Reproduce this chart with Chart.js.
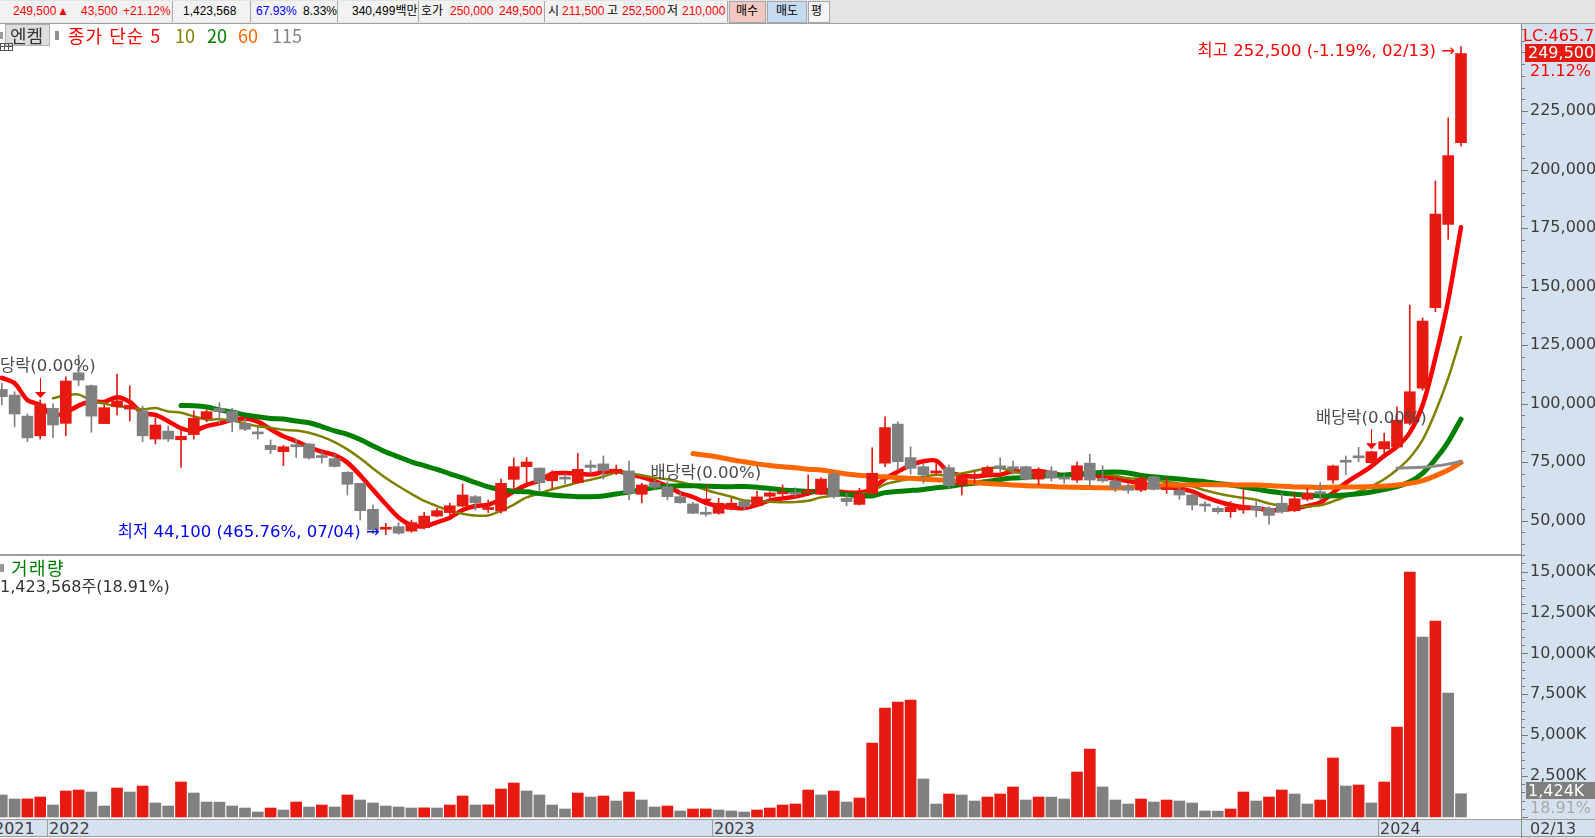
<!DOCTYPE html>
<html lang="ko">
<head>
<meta charset="utf-8">
<title>엔켐 주봉</title>
<script src="https://cdn.jsdelivr.net/npm/chart.js@4.4.1/dist/chart.umd.min.js"></script>
<style>
  html,body{margin:0;padding:0;background:#fff;}
  #wrap{position:relative;width:1595px;height:838px;overflow:hidden;background:#fff;
        font-family:"DejaVu Sans","Noto Sans CJK KR",sans-serif;color:#333;}
  .abs{position:absolute;white-space:nowrap;line-height:1;}
  #toolbar{position:absolute;left:0;top:0;width:1595px;height:23px;background:#e4e4e4;border-bottom:1px solid #a0a0a0;
           font-family:"Liberation Sans","Noto Sans CJK KR",sans-serif;font-size:12px;}
  .cell{position:absolute;top:1px;height:21px;background:#f2f2f2;border-right:1px solid #a8a8a8;}
  .btn{position:absolute;top:1px;height:20px;border:1px solid #a8a8a8;}
  .tb{position:absolute;top:5px;white-space:nowrap;line-height:13px;}
  .red{color:#f00;} .blk{color:#000;} .blu{color:#0000ff;}
  #axisBg{position:absolute;left:1522px;top:24px;width:73px;height:814px;background:#d6e1ef;}
  canvas{position:absolute;left:0;}
  .hd{font-family:"Noto Sans CJK KR",sans-serif;font-size:18px;}
</style>
</head>
<body>
<div id="wrap">
  <div id="axisBg"></div>
  <canvas id="cPrice" width="1595" height="530" style="top:25px"></canvas>
  <canvas id="cVol" width="1595" height="264" style="top:555px"></canvas>

  <div id="toolbar">
    <div class="cell" style="left:0;width:172px"></div>
    <div class="cell" style="left:173px;width:77px"></div>
    <div class="cell" style="left:251px;width:86px"></div>
    <div class="cell" style="left:338px;width:80px"></div>
    <div class="cell" style="left:419px;width:125px"></div>
    <div class="cell" style="left:545px;width:182px"></div>
    <div class="btn" style="left:729px;width:35px;background:#f3c8c3"></div>
    <div class="btn" style="left:767px;width:38px;background:#c6daf2"></div>
    <div class="btn" style="left:808px;width:20px;background:#f4f4f4"></div>
    <span class="tb red" style="left:13px">249,500</span>
    <span class="tb red" style="left:57px">▲</span>
    <span class="tb red" style="left:81px">43,500</span>
    <span class="tb red" style="left:123px">+21.12%</span>
    <span class="tb blk" style="left:183px">1,423,568</span>
    <span class="tb blu" style="left:256px">67.93%</span>
    <span class="tb blk" style="left:303px">8.33%</span>
    <span class="tb blk" style="left:352px">340,499백만</span>
    <span class="tb blk" style="left:421px">호가</span>
    <span class="tb red" style="left:450px">250,000</span>
    <span class="tb red" style="left:499px">249,500</span>
    <span class="tb blk" style="left:548px">시</span>
    <span class="tb red" style="left:562px">211,500</span>
    <span class="tb blk" style="left:607px">고</span>
    <span class="tb red" style="left:622px">252,500</span>
    <span class="tb blk" style="left:667px">저</span>
    <span class="tb red" style="left:682px">210,000</span>
    <span class="tb blk" style="left:736px">매수</span>
    <span class="tb blk" style="left:776px">매도</span>
    <span class="tb blk" style="left:811px">평</span>
  </div>

  <!-- price pane header -->
  <div class="abs" style="left:0;top:32px;width:3px;height:7px;background:#9a9a9a;"></div>
  <div class="abs" style="left:5px;top:24px;width:43px;height:20px;background:#dedede;border:1px solid #b0b0b0;"></div>
  <span class="abs hd" style="left:10px;top:26px;color:#333;">엔켐</span>
  <div class="abs" style="left:55px;top:31px;width:4px;height:9px;background:#8e8e8e;"></div>
  <span class="abs hd" style="left:68px;top:26px;color:#f00;letter-spacing:1px;">종가 단순 5</span>
  <span class="abs hd" style="left:175px;top:26px;color:#808000;">10</span>
  <span class="abs hd" style="left:207px;top:26px;color:#008000;">20</span>
  <span class="abs hd" style="left:238px;top:26px;color:#ff6600;">60</span>
  <span class="abs hd" style="left:272px;top:26px;color:#808080;">115</span>
  <div class="abs" style="left:0;top:43px;width:11px;height:6px;border:1px solid #555;background:
       linear-gradient(#555,#555) 0 2px/100% 1px no-repeat, linear-gradient(#555,#555) 3px 0/1px 100% no-repeat, linear-gradient(#555,#555) 7px 0/1px 100% no-repeat;"></div>

  <!-- volume pane header -->
  <div class="abs" style="left:0;top:564px;width:4px;height:8px;background:#9a9a9a;"></div>
  <span class="abs hd" style="left:11px;top:558px;color:#008000;letter-spacing:1.5px;">거래량</span>
  <span class="abs" style="left:0;top:579px;font-size:16px;color:#333;">1,423,568주(18.91%)</span>

  <!-- pane separator, axis line, date strip -->
  <div class="abs" style="left:0;top:554px;width:1522px;height:2px;background:#9c9c9c;"></div>
  <div class="abs" id="strip" style="left:0;top:819px;width:1595px;height:16px;background:#d6e1ef;border-top:1px solid #9c9c9c;border-bottom:1px solid #9c9c9c;"></div>
  <div class="abs" style="left:1521px;top:24px;width:1px;height:814px;background:#8a8a8a;"></div>
</div>

<script>
// ---------------- data (weekly candles, 엔켐) ----------------
const WEEKS = [
 '2021-12-06','2021-12-13','2021-12-20','2021-12-27',
 '2022-01-03','2022-01-10','2022-01-17','2022-01-24','2022-01-31',
 '2022-02-07','2022-02-14','2022-02-21','2022-02-28',
 '2022-03-07','2022-03-14','2022-03-21','2022-03-28',
 '2022-04-04','2022-04-11','2022-04-18','2022-04-25',
 '2022-05-02','2022-05-09','2022-05-16','2022-05-23','2022-05-30',
 '2022-06-06','2022-06-13','2022-06-20','2022-06-27',
 '2022-07-04','2022-07-11','2022-07-18','2022-07-25',
 '2022-08-01','2022-08-08','2022-08-15','2022-08-22','2022-08-29',
 '2022-09-05','2022-09-12','2022-09-19','2022-09-26',
 '2022-10-03','2022-10-10','2022-10-17','2022-10-24','2022-10-31',
 '2022-11-07','2022-11-14','2022-11-21','2022-11-28',
 '2022-12-05','2022-12-12','2022-12-19','2022-12-26',
 '2023-01-02','2023-01-09','2023-01-16','2023-01-23','2023-01-30',
 '2023-02-06','2023-02-13','2023-02-20','2023-02-27',
 '2023-03-06','2023-03-13','2023-03-20','2023-03-27',
 '2023-04-03','2023-04-10','2023-04-17','2023-04-24',
 '2023-05-01','2023-05-08','2023-05-15','2023-05-22','2023-05-29',
 '2023-06-05','2023-06-12','2023-06-19','2023-06-26',
 '2023-07-03','2023-07-10','2023-07-17','2023-07-24','2023-07-31',
 '2023-08-07','2023-08-14','2023-08-21','2023-08-28',
 '2023-09-04','2023-09-11','2023-09-18','2023-09-25',
 '2023-10-02','2023-10-09','2023-10-16','2023-10-23','2023-10-30',
 '2023-11-06','2023-11-13','2023-11-20','2023-11-27',
 '2023-12-04','2023-12-11','2023-12-18','2023-12-26',
 '2024-01-02','2024-01-08','2024-01-15','2024-01-22','2024-01-29',
 '2024-02-05','2024-02-13'
];

const OPEN = [
 106100,103700,94700,86300,98000,91600,113200,107700,91500,98700,
 97700,96900,84900,88300,84600,86800,93600,98000,96900,91600,
 87200,82200,79500,81700,82800,77100,76500,70700,66000,54900,
 46400,47500,45600,47100,52000,53500,56300,60300,54800,54200,
 67700,73100,72500,67100,67900,66300,73800,74300,70500,71300,
 61300,66300,64600,60300,57200,52900,53200,55000,58200,56400,
 60500,61500,61500,62200,61300,69900,59600,57000,61700,74600,
 91300,77000,73100,70400,72700,65300,68200,69600,73500,73100,
 73100,67800,71300,68700,67400,74600,68100,67000,64400,63100,
 68800,63300,63100,61000,56400,55300,53900,54600,56000,55300,
 57500,54300,59200,62400,67400,75100,77000,74800,80700,81500,
 91600,106600,141000,176600,211500];

const HIGH = [
 108700,105100,95600,101600,99900,111500,120800,108000,99400,112700,
 107600,99000,94000,90500,90200,96900,97300,100400,98000,93800,
 89900,84500,82200,84900,83100,79500,78400,71000,66000,56700,
 48900,49200,50300,53600,55300,57500,65700,60800,58900,67800,
 76800,77000,72600,71400,70000,78800,75700,77700,73800,75500,
 66000,67400,66700,62400,58000,56000,59600,59600,58500,62700,
 62400,65300,64100,69600,68400,71300,61700,63900,81200,94400,
 92300,81600,74500,75200,73800,70300,71000,73400,76900,75500,
 73400,72700,73100,69900,75200,78500,73500,67800,66000,68800,
 69100,68300,64300,61700,58200,56000,58200,63600,58200,56000,
 61700,61700,63900,66300,73800,77700,81400,79700,87400,98700,
 142100,136600,195100,222100,252500];

const LOW = [
 99400,90200,83800,84900,85500,86300,107700,87800,91400,95200,
 92600,83800,82800,83800,72800,84900,92300,91600,88000,88500,
 84900,78700,73600,77000,76300,74700,72900,61000,50300,44500,
 44100,44200,45100,46500,51700,52500,56000,54600,53500,53300,
 63200,66100,62400,63900,65700,66000,70300,67800,69700,58900,
 57700,63100,58900,57500,53000,52000,52800,54600,54600,56000,
 59700,60300,60300,61300,61000,59600,56400,56700,61300,73100,
 71700,69900,66000,69600,63900,61000,66000,68800,71000,69900,
 67400,65300,67000,66000,66400,65000,66400,62400,61700,62400,
 63100,61700,59200,54600,53900,53200,51500,53200,51700,48600,
 53200,53900,58600,58900,66000,69600,75200,74500,78800,80700,
 91000,105800,139300,170200,210000];

const CLOSE = [
 103000,95600,85400,99900,90900,109700,110100,94700,98300,101200,
 99400,86300,90900,84900,86100,93800,96600,96600,92300,89100,
 87100,80400,81600,81600,76800,77000,73200,65600,54300,46100,
 46500,44700,49200,52000,54300,56400,61000,57700,54900,66000,
 73100,75100,66300,69900,67800,72000,72800,71400,72000,61700,
 65300,64300,60300,57700,53200,52800,57500,57500,56000,60200,
 61900,62200,61300,62700,67800,60300,58200,61300,70300,89800,
 75200,72400,69600,71300,65000,68800,69600,72700,72400,72100,
 67800,71300,68200,67800,73500,67400,67000,63900,63000,68100,
 63400,63400,61000,56700,56300,53900,55800,56300,54600,52300,
 53900,59400,61700,61500,73400,75000,76900,79500,83800,93000,
 105100,135300,181000,206000,249500];

// closes of the 5 weeks before the visible window (needed by the moving averages)
const PRE_CLOSE = [96200, 107100, 120900, 110900, 113100];

// weekly volume, thousands of shares
const VOLUME_K = [
 1345,1100,1110,1222,733,1589,1650,1528,672,1772,
 1528,1895,856,672,2139,1467,917,910,672,550,
 306,550,428,917,611,733,611,1345,1039,856,
 672,611,550,560,550,733,1284,733,745,1711,
 2078,1589,1345,733,489,1467,1222,1284,978,1528,
 1039,611,672,367,489,495,428,367,306,428,
 550,733,795,1650,1345,1589,917,1161,4523,6662,
 7029,7151,2323,795,1406,1345,978,1222,1406,1834,
 1039,1222,1215,1100,2750,4156,1834,1039,795,1100,
 917,1039,978,856,367,360,489,1528,978,1222,
 1650,1406,795,1039,3606,1895,1956,856,2139,5501,
 14974,11002,11980,7579,1423.568];

const MA_PERIODS = [5, 10, 20, 60, 115];
const DIVIDEND_WEEKS = ['2021-12-27', '2022-12-26', '2023-12-26'];
const PRICE_TICKS = [50000, 75000, 100000, 125000, 150000, 175000, 200000, 225000, 250000];
const VOLUME_TICKS_K = [2500, 5000, 7500, 10000, 12500, 15000];

// ---------------- styles ----------------
const RED = '#e61a10', GRAY = '#808080';
const MA_STYLE = {5:{color:'#ff0000',width:4.5}, 10:{color:'#808000',width:2.5}, 20:{color:'#008000',width:5},
                  60:{color:'#ff6600',width:5}, 115:{color:'#8a8a8a',width:3}};
const FONT = 'DejaVu Sans';

const ALL_CLOSE = PRE_CLOSE.concat(CLOSE);
function movingAverage(n) {
  const pts = [];
  for (let i = 0; i < CLOSE.length; i++) {
    const end = i + PRE_CLOSE.length;
    if (end - n + 1 < 0) continue;
    let s = 0;
    for (let k = end - n + 1; k <= end; k++) s += ALL_CLOSE[k];
    pts.push({x: i, y: s / n});
  }
  return pts;
}

const candleColor = CLOSE.map((c, i) => c >= OPEN[i] ? RED : GRAY);
const volumeColor = VOLUME_K.map((v, i) => (i > 0 && v > VOLUME_K[i - 1]) ? RED : GRAY);
const DIVIDEND_IDX = DIVIDEND_WEEKS.map(w => WEEKS.indexOf(w));

const X_RANGE = {min: -0.1406, max: 118.766};

const axisTicks = {
  id: 'axisTicks',
  afterDraw(chart, args, opts) {
    const s = chart.scales.y, ctx = chart.ctx;
    ctx.save();
    ctx.strokeStyle = '#7a7a7a'; ctx.lineWidth = 1;
    const start = Math.max(0, Math.ceil(s.min / opts.minor)) * opts.minor;
    for (let v = start; v <= s.max; v += opts.minor) {
      const yy = Math.round(s.getPixelForValue(v)) + 0.5;
      const len = (v % opts.major === 0) ? 6 : 3;
      ctx.beginPath(); ctx.moveTo(s.left, yy); ctx.lineTo(s.left + len, yy); ctx.stroke();
    }
    ctx.restore();
  }
};

const dividendArrows = {
  id: 'dividendArrows',
  afterDatasetsDraw(chart) {
    const {ctx, scales: {x, y}} = chart;
    ctx.save();
    ctx.fillStyle = '#ff0000'; ctx.strokeStyle = '#ff0000'; ctx.lineWidth = 1;
    DIVIDEND_IDX.forEach(i => {
      const px = Math.round(x.getPixelForValue(i)) + 0.5;
      const tip = y.getPixelForValue(HIGH[i]) - 2;
      ctx.beginPath(); ctx.moveTo(px, tip - 20); ctx.lineTo(px, tip - 5); ctx.stroke();
      ctx.beginPath(); ctx.moveTo(px - 5.5, tip - 6); ctx.lineTo(px + 5.5, tip - 6); ctx.lineTo(px, tip); ctx.closePath(); ctx.fill();
    });
    ctx.restore();
  }
};

function yAxis(min, max, ticks, fmt) {
  return {
    position: 'right', min, max,
    afterFit(scale) { scale.width = 73; scale.paddingTop = 0; scale.paddingBottom = 0; },
    afterBuildTicks(scale) { scale.ticks = ticks.map(v => ({value: v})); },
    grid: {display: false, drawTicks: false},
    border: {display: false},
    ticks: {padding: 8, color: '#3c3c3c', font: {family: FONT, size: 16}, callback: fmt}
  };
}
const xAxis = {type: 'linear', min: X_RANGE.min, max: X_RANGE.max, offset: false, display: false};

const priceDatasets = MA_PERIODS.map((n, k) => ({
  type: 'line', label: '단순 ' + n, data: movingAverage(n),
  borderColor: MA_STYLE[n].color, borderWidth: MA_STYLE[n].width,
  pointRadius: 0, tension: 0.3, fill: false, order: 10 + (MA_PERIODS.length - k),
  borderJoinStyle: 'round', borderCapStyle: 'round'
}));
priceDatasets.push({
  type: 'bar', label: 'wick', data: WEEKS.map((w, i) => ({x: i, y: [LOW[i], HIGH[i]]})),
  backgroundColor: candleColor, barThickness: 1, grouped: false, order: 2
});
priceDatasets.push({
  type: 'bar', label: 'body',
  data: WEEKS.map((w, i) => ({x: i, y: [Math.min(OPEN[i], CLOSE[i]), Math.max(OPEN[i], CLOSE[i])]})),
  backgroundColor: candleColor, barThickness: 11, minBarLength: 2, grouped: false, order: 1
});

const common = {
  responsive: false, maintainAspectRatio: false, animation: false, events: [],
  layout: {padding: 0},
  plugins: {legend: {display: false}, tooltip: {enabled: false}}
};

const priceChart = new Chart(document.getElementById('cPrice'), {
  type: 'bar',
  data: {datasets: priceDatasets},
  options: Object.assign({}, common, {
    plugins: Object.assign({}, common.plugins, {axisTicks: {minor: 5000, major: 25000}}),
    scales: {x: xAxis, y: yAxis(35386, 261727, PRICE_TICKS, v => v.toLocaleString('en-US'))}
  }),
  plugins: [axisTicks, dividendArrows]
});

const volChart = new Chart(document.getElementById('cVol'), {
  type: 'bar',
  data: {datasets: [{
    type: 'bar', label: '거래량', data: VOLUME_K.map((v, i) => ({x: i, y: v})),
    backgroundColor: volumeColor, barThickness: 11, grouped: false
  }]},
  options: Object.assign({}, common, {
    plugins: Object.assign({}, common.plugins, {axisTicks: {minor: 500, major: 2500}}),
    scales: {x: xAxis, y: yAxis(-122, 16015, VOLUME_TICKS_K, v => v.toLocaleString('en-US') + 'K')}
  }),
  plugins: [axisTicks]
});

// ---------------- text overlays placed through the chart scales ----------------
const wrap = document.getElementById('wrap');
function addText(txt, css) {
  const d = document.createElement('div');
  d.className = 'abs';
  d.textContent = txt;
  Object.assign(d.style, css);
  wrap.appendChild(d);
  return d;
}
const PX = priceChart.scales.x, PY = priceChart.scales.y, VY = volChart.scales.y;
const P_TOP = 25, V_TOP = 555;
const xPix = i => PX.getPixelForValue(i);
const yPix = v => P_TOP + PY.getPixelForValue(v);
const vPix = v => V_TOP + VY.getPixelForValue(v);
const last = CLOSE.length - 1;
const hiIdx = HIGH.indexOf(Math.max(...HIGH));
const loIdx = LOW.indexOf(Math.min(...LOW));

addText('최고 252,500 (-1.19%, 02/13) →', {right: (1595 - (xPix(hiIdx) - 6)) + 'px', top: (yPix(HIGH[hiIdx]) + 5 - 8.5) + 'px',
  fontSize: '16.5px', color: '#ff0000'});
addText('최저 44,100 (465.76%, 07/04) →', {right: (1595 - (xPix(loIdx) - 6)) + 'px', top: (yPix(LOW[loIdx]) - 2 - 8.5) + 'px',
  fontSize: '16.5px', color: '#0000ff'});
DIVIDEND_IDX.forEach(i => {
  const arrowTop = yPix(HIGH[i]) - 22;
  addText('배당락(0.00%)', {left: xPix(i) + 'px', top: (arrowTop - 11 - 8.5) + 'px', transform: 'translateX(-50%)',
    fontSize: '16.5px', color: '#4a4a4a'});
});

// right column: current price marker
const yc = yPix(CLOSE[last]);
addText('LC:465.76%', {left: '1523px', top: (yc - 26) + 'px', fontSize: '16px', color: '#ff0000'});
addText(CLOSE[last].toLocaleString('en-US'), {left: '1525px', top: (yc - 10) + 'px', width: '70px', height: '18px', lineHeight: '18px',
  paddingLeft: '3px', boxSizing: 'border-box', background: RED, color: '#fff', fontSize: '16px'});
addText('21.12%', {left: '1530px', top: (yc + 9.5) + 'px', fontSize: '16px', color: '#ff0000'});

// right column: current volume marker
const yv = vPix(VOLUME_K[last]);
addText(Math.round(VOLUME_K[last]).toLocaleString('en-US') + 'K', {left: '1526px', top: (yv - 12) + 'px', width: '69px', height: '17px',
  lineHeight: '17px', paddingLeft: '2px', boxSizing: 'border-box', background: '#7f7f7f', color: '#fff', fontSize: '16px'});
addText('18.91%', {left: '1530px', top: (yv + 6) + 'px', fontSize: '16px', color: '#a8a8a8'});

// date strip
addText(WEEKS[0].slice(0, 4), {left: '-6px', top: '821px', fontSize: '16px', color: '#3c3c3c'});
for (let i = 1; i < WEEKS.length; i++) {
  if (WEEKS[i].slice(0, 4) !== WEEKS[i - 1].slice(0, 4)) {
    const bx = Math.round(xPix(i - 0.5));
    const line = document.createElement('div');
    line.className = 'abs';
    Object.assign(line.style, {left: bx + 'px', top: '820px', width: '1px', height: '16px', background: '#9c9c9c'});
    wrap.appendChild(line);
    addText(WEEKS[i].slice(0, 4), {left: (bx + 2) + 'px', top: '821px', fontSize: '16px', color: '#3c3c3c'});
  }
}
addText(WEEKS[last].slice(5, 7) + '/' + WEEKS[last].slice(8, 10), {left: '1530px', top: '821px', fontSize: '16px', color: '#3c3c3c'});
</script>
</body>
</html>
